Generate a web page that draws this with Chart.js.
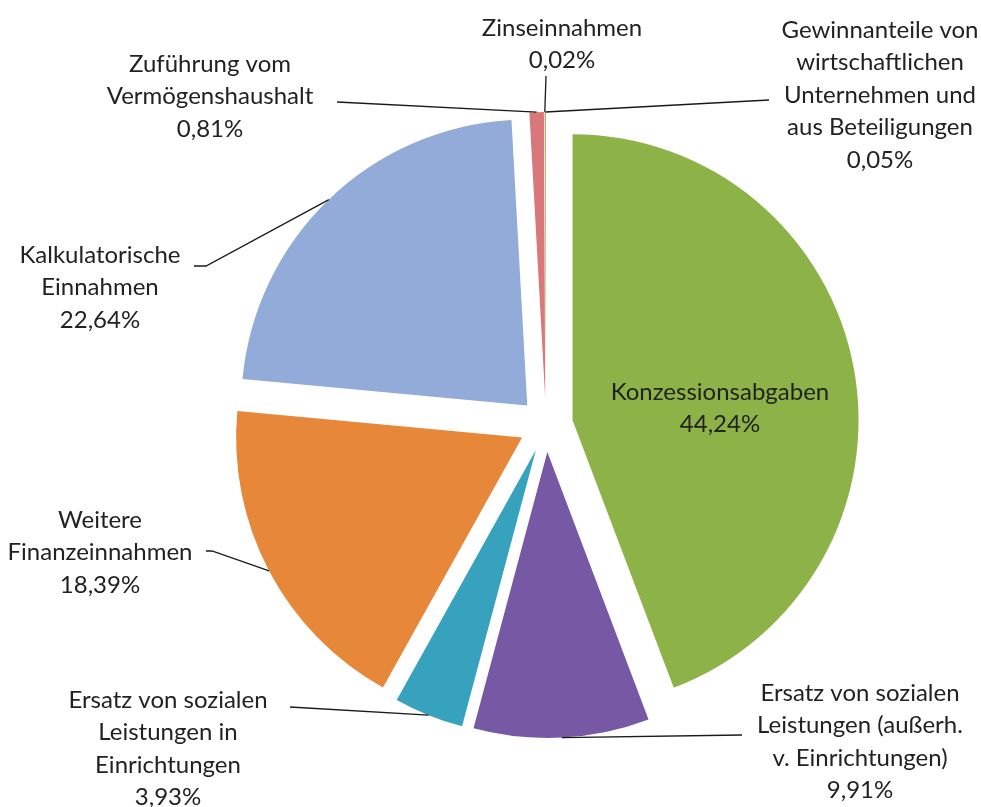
<!DOCTYPE html>
<html>
<head>
<meta charset="utf-8">
<script src="https://cdn.jsdelivr.net/npm/chart.js@4.4.1/dist/chart.umd.min.js"></script>
<style>
  html, body { margin: 0; padding: 0; background: #fff; }
  #wrap { width: 981px; height: 807px; }
</style>
</head>
<body>
<div id="wrap"><canvas id="pie"></canvas></div>
<script>
// ============================================================
// Data
// ============================================================
const categories = [
  ["Konzessionsabgaben"],
  ["Ersatz von sozialen", "Leistungen (außerh.", "v. Einrichtungen)"],
  ["Ersatz von sozialen", "Leistungen in", "Einrichtungen"],
  ["Weitere", "Finanzeinnahmen"],
  ["Kalkulatorische", "Einnahmen"],
  ["Zuführung vom", "Vermögenshaushalt"],
  ["Zinseinnahmen"],
  ["Gewinnanteile von", "wirtschaftlichen", "Unternehmen und", "aus Beteiligungen"],
];
const shares = [44.24, 9.91, 3.93, 18.39, 22.64, 0.81, 0.02, 0.05];
const colors = ["#8db348", "#7758a4", "#36a2bd", "#e6873a", "#92abd9", "#d9777b", "#d9777b", "#8db348"];

// ============================================================
// Layout (label blocks + leader line points on the text side)
// ============================================================
const EXPLODE = 27;
const FONT = "24px Lato";
const LINE_H = 32.5;
const labelLayout = [
  { x: 720, y: 392, line: null },
  { x: 860, y: 693, line: [[742, 735]] },
  { x: 168, y: 700, line: [[290, 707]] },
  { x: 100, y: 520, line: [[206, 551], [212, 551]] },
  { x: 100, y: 255, line: [[194, 266], [206, 266]] },
  { x: 210, y: 64, line: [[337, 102]] },
  { x: 562, y: 28, line: [[546, 76]] },
  { x: 880, y: 30, line: [[769, 100]] },
];

const fmtPct = (v) => v.toFixed(2).replace(".", ",") + "%";

// draw each slice pushed out along its middle angle
const explodePlugin = {
  id: "explode",
  beforeDatasetDraw(chart, args) {
    const ctx = chart.ctx;
    args.meta.data.forEach((arc) => {
      const mid = (arc.startAngle + arc.endAngle) / 2;
      ctx.save();
      ctx.translate(Math.cos(mid) * EXPLODE, Math.sin(mid) * EXPLODE);
      arc.draw(ctx);
      ctx.restore();
    });
    return false;
  },
};

const labelPlugin = {
  id: "pieLabels",
  afterDatasetsDraw(chart) {
    const ctx = chart.ctx;
    const meta = chart.getDatasetMeta(0);
    ctx.save();
    ctx.font = FONT;
    ctx.fillStyle = "#222";
    ctx.textAlign = "center";
    ctx.textBaseline = "middle";
    ctx.strokeStyle = "#1a1a1a";
    ctx.lineWidth = 1.3;
    meta.data.forEach((arc, i) => {
      const lay = labelLayout[i];
      if (lay.line) {
        const mid = (arc.startAngle + arc.endAngle) / 2;
        const r = arc.outerRadius + EXPLODE;
        ctx.beginPath();
        ctx.moveTo(arc.x + Math.cos(mid) * r, arc.y + Math.sin(mid) * r);
        for (let k = lay.line.length - 1; k >= 0; k--) ctx.lineTo(lay.line[k][0], lay.line[k][1]);
        ctx.stroke();
      }
      const lines = categories[i].concat([fmtPct(shares[i])]);
      lines.forEach((t, k) => ctx.fillText(t, lay.x, lay.y + k * LINE_H));
    });
    ctx.restore();
  },
};

// ============================================================
// Chart
// ============================================================
new Chart(document.getElementById("pie"), {
  type: "pie",
  data: {
    labels: categories.map((c) => c.join(" ")),
    datasets: [{
      data: shares,
      backgroundColor: colors,
      borderWidth: 0,
      radius: 286,
    }],
  },
  options: {
    responsive: true,
    maintainAspectRatio: false,
    animation: false,
    layout: { padding: { left: 246, right: 135, top: 125, bottom: 82 } },
    plugins: { legend: { display: false }, tooltip: { enabled: false } },
  },
  plugins: [explodePlugin, labelPlugin],
});
</script>
</body>
</html>
